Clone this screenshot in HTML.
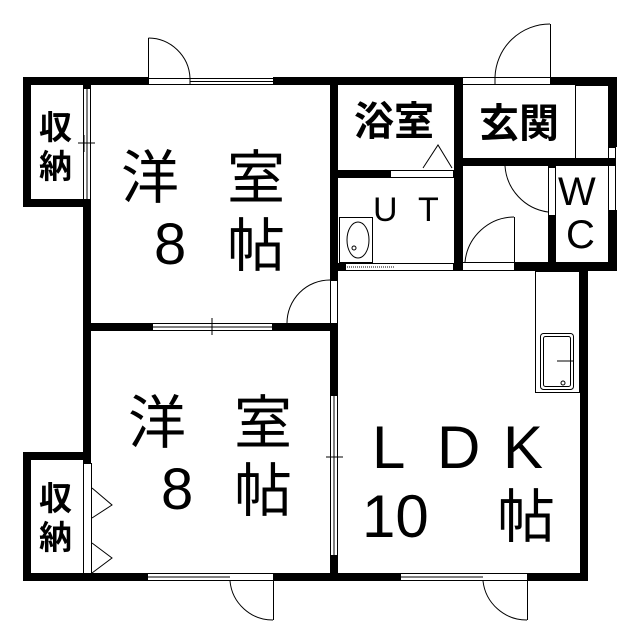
<!DOCTYPE html>
<html><head><meta charset="utf-8"><style>
html,body{margin:0;padding:0;background:#fff;}
svg{display:block;}
text{font-family:"Liberation Sans","Noto Sans CJK JP",sans-serif;fill:#000;}
</style></head><body>
<svg width="640" height="640" viewBox="0 0 640 640" xmlns="http://www.w3.org/2000/svg">
<rect width="640" height="640" fill="#fff"/>
<g fill="#000">
<rect x="23" y="77" width="125" height="8"/>
<rect x="273" y="77" width="190" height="8"/>
<rect x="550" y="77" width="67" height="8"/>
<rect x="23" y="77" width="8" height="130"/>
<rect x="23" y="199" width="67" height="8"/>
<rect x="83" y="85" width="8" height="4"/>
<rect x="83" y="199" width="8" height="260"/>
<rect x="83" y="323" width="69" height="8"/>
<rect x="272" y="323" width="65" height="8"/>
<rect x="330" y="77" width="8" height="203"/>
<rect x="330" y="323" width="8" height="72"/>
<rect x="330" y="555" width="8" height="26"/>
<rect x="454" y="77" width="9" height="194"/>
<rect x="337" y="170" width="53" height="8"/>
<rect x="330" y="263" width="15" height="8"/>
<rect x="515" y="262" width="100" height="9"/>
<rect x="462" y="158" width="153" height="8"/>
<rect x="548" y="158" width="8" height="10"/>
<rect x="548" y="215" width="8" height="55"/>
<rect x="608" y="77" width="9" height="70"/>
<rect x="608" y="210" width="9" height="61"/>
<rect x="580" y="262" width="8" height="319"/>
<rect x="23" y="452" width="68" height="8"/>
<rect x="23" y="452" width="8" height="129"/>
<rect x="83" y="452" width="8" height="12"/>
<rect x="83" y="573" width="8" height="8"/>
<rect x="23" y="573" width="125" height="8"/>
<rect x="273" y="573" width="127" height="8"/>
<rect x="528" y="573" width="60" height="8"/>
</g>
<g fill="none" stroke="#000" stroke-width="1">
<rect x="148.5" y="78.5" width="125" height="6"/>
<line x1="190" y1="78" x2="190" y2="85"/>
<line x1="190" y1="81.5" x2="273" y2="81.5"/>
<line x1="148.5" y1="78" x2="148.5" y2="38"/>
<path d="M148.5 38 A42 42 0 0 1 190 78"/>
<rect x="83.5" y="88.5" width="7" height="111"/>
<line x1="87" y1="88" x2="87" y2="200"/>
<line x1="78" y1="143" x2="95" y2="143"/>
<line x1="84" y1="135" x2="84" y2="152"/>
<rect x="152.5" y="323.5" width="120" height="7"/>
<line x1="152" y1="327" x2="272" y2="327"/>
<line x1="212" y1="318" x2="212" y2="335"/>
<rect x="330.5" y="280.5" width="7" height="43"/>
<line x1="330.5" y1="280" x2="330.5" y2="323"/>
<path d="M330 280 A43 43 0 0 0 287 323"/>
<rect x="330.5" y="395.5" width="7" height="160"/>
<line x1="334" y1="395" x2="334" y2="555"/>
<line x1="326" y1="457" x2="343" y2="457"/>
<rect x="83.5" y="463.5" width="8" height="110"/>
<polyline points="92,488 112,505 92,518"/>
<polyline points="92,543 112,558 92,573"/>
<rect x="147.5" y="573.5" width="126" height="7"/>
<line x1="147" y1="577" x2="230" y2="577"/>
<line x1="273.5" y1="581" x2="273.5" y2="620"/>
<path d="M230 581 A43 43 0 0 0 273 620"/>
<rect x="400.5" y="573.5" width="127" height="7"/>
<line x1="400" y1="577" x2="483" y2="577"/>
<line x1="527.5" y1="581" x2="527.5" y2="620"/>
<path d="M483 581 A44 44 0 0 0 527 620"/>
<rect x="390.5" y="170.5" width="63" height="7"/>
<polyline points="423,168 438,145 452,168"/>
<rect x="345.5" y="263.5" width="108" height="7"/>
<line x1="345" y1="267" x2="395" y2="267" stroke-dasharray="1 1"/>
<rect x="339.5" y="217.5" width="33" height="45"/>
<ellipse cx="358" cy="240" rx="11" ry="18"/>
<circle cx="354" cy="248" r="2"/>
<rect x="462.5" y="262.5" width="52" height="8"/>
<line x1="514.5" y1="262" x2="514.5" y2="217"/>
<path d="M514 217 A50 50 0 0 0 465 262"/>
<rect x="548.5" y="166.5" width="7" height="49"/>
<path d="M505 166 A50 50 0 0 0 548 212"/>
<rect x="608.5" y="147.5" width="7" height="63"/>
<rect x="462.5" y="77.5" width="88" height="7"/>
<line x1="495" y1="77" x2="495" y2="85"/>
<line x1="550.5" y1="77" x2="550.5" y2="24"/>
<path d="M495 77 A55 55 0 0 1 550 24"/>
<rect x="575.5" y="85.5" width="33" height="73"/>
<rect x="535.5" y="271.5" width="44" height="121"/>
<rect x="540.5" y="333.5" width="33" height="56" rx="3"/>
<rect x="543.5" y="336.5" width="27" height="50" rx="2"/>
<line x1="557" y1="361" x2="573" y2="361"/>
<circle cx="563" cy="383" r="2"/>
</g>
<text x="39" y="139" font-size="33" font-weight="bold">収</text>
<text x="39" y="178" font-size="33" font-weight="bold">納</text>
<text x="39" y="510" font-size="33" font-weight="bold">収</text>
<text x="39" y="549" font-size="33" font-weight="bold">納</text>
<text x="121" y="198" font-size="58">洋</text>
<text x="227" y="198" font-size="58">室</text>
<text x="154" y="264" font-size="58">8</text>
<text x="227" y="266" font-size="58">帖</text>
<text x="128" y="443" font-size="58">洋</text>
<text x="234" y="443" font-size="58">室</text>
<text x="161" y="509" font-size="58">8</text>
<text x="234" y="511" font-size="58">帖</text>
<text x="372" y="468" font-size="60">L</text>
<text x="437" y="468" font-size="60">D</text>
<text x="503" y="468" font-size="60">K</text>
<text x="362" y="537" font-size="60">10</text>
<text x="497" y="537" font-size="58">帖</text>
<text x="354" y="135" font-size="40" font-weight="bold">浴室</text>
<text x="479" y="137" font-size="40" font-weight="bold">玄関</text>
<text x="373" y="221" font-size="34">U</text>
<text x="418" y="221" font-size="34">T</text>
<text x="558" y="205" font-size="40">W</text>
<text x="566" y="248" font-size="40">C</text>
</svg>
</body></html>
